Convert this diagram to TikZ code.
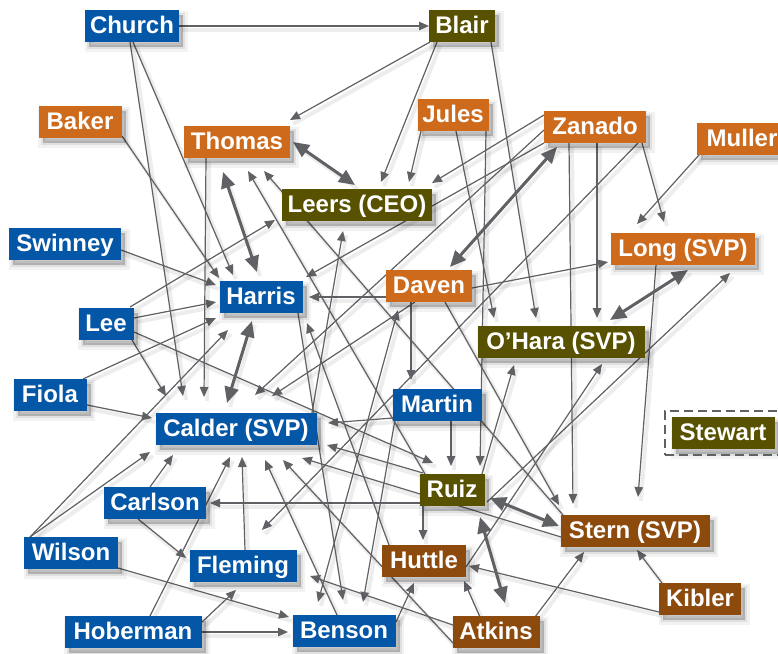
\documentclass[tikz,border=0pt]{standalone}
\usepackage{fontspec}
\setmainfont{Liberation Sans}
\usetikzlibrary{arrows.meta,shadows,fit,backgrounds,calc}
\definecolor{cblue}{RGB}{4,86,166}
\definecolor{corange}{RGB}{205,106,27}
\definecolor{colive}{RGB}{88,82,0}
\definecolor{cbrown}{RGB}{140,74,12}
\definecolor{cedge}{RGB}{96,97,101}
\newcommand{\ed}[5][e]{\draw[#1] ($(#2)+(#3)$) -- ($(#4)+(#5)$);}
\begin{document}
\begin{tikzpicture}[x=1pt,y=-1pt,
  box/.style={text=white, font=\fontsize{24}{24}\selectfont\bfseries, minimum height=32pt,
    inner xsep=2pt, inner ysep=6.25pt, text height=17.2pt, text depth=2.3pt,
    general shadow={shadow xshift=4pt,shadow yshift=-5pt,fill=black,draw=black,line width=9pt,opacity=0.05},
    general shadow={shadow xshift=4pt,shadow yshift=-5pt,fill=black,draw=black,line width=4pt,opacity=0.07},
    general shadow={shadow xshift=4pt,shadow yshift=-5pt,fill=black,opacity=0.10}},
  bl/.style={box, fill=cblue},
  og/.style={box, fill=corange},
  ol/.style={box, fill=colive},
  br/.style={box, fill=cbrown},
  esh/.style={preaction={draw=black, opacity=0.07, line width=4pt, arrows=-, transform canvas={shift={(3pt,-4pt)}}}},
  e/.style={esh, draw=cedge, line width=1.2pt, -{Triangle[length=10pt,width=8.5pt]}},
  eb/.style={esh, draw=cedge, line width=1.2pt, {Triangle[length=10pt,width=8.5pt]}-{Triangle[length=10pt,width=8.5pt]}},
  ee/.style={esh, draw=cedge, line width=3pt, {Triangle[length=16pt,width=14pt]}-{Triangle[length=16pt,width=14pt]}},
]
\useasboundingbox (0,0) rectangle (778,653);
% nodes
\node[bl, minimum width=94pt]  (church)   at (132,26)  {Church};
\node[ol, minimum width=66pt]  (blair)    at (462,26)  {Blair};
\node[og, minimum width=83pt]  (baker)    at (80,122)  {Baker};
\node[og, minimum width=106pt] (thomas)   at (237,142) {Thomas};
\node[og, minimum width=71pt]  (jules)    at (453,115) {Jules};
\node[og, minimum width=102pt] (zanado)   at (595,127) {Zanado};
\node[og, minimum width=90pt]  (muller)   at (742,139) {Muller};
\node[ol, minimum width=150pt] (leers)    at (357,205) {Leers (CEO)};
\node[og, minimum width=144pt] (long)     at (683,249) {Long (SVP)};
\node[bl, minimum width=112pt] (swinney)  at (65,244)  {Swinney};
\node[bl, minimum width=83pt]  (harris)   at (261,297) {Harris};
\node[og, minimum width=86pt]  (daven)    at (429,286) {Daven};
\node[bl, minimum width=55pt]  (lee)      at (106,324) {Lee};
\node[ol, minimum width=167pt] (ohara)    at (561,342) {O’Hara (SVP)};
\node[bl, minimum width=73pt]  (fiola)    at (50,395)  {Fiola};
\node[bl, minimum width=89pt]  (martin)   at (437,405) {Martin};
\node[bl, minimum width=161pt] (calder)   at (236,429) {Calder (SVP)};
\node[ol, minimum width=103pt] (stewart)  at (723,433) {Stewart};
\node[ol, minimum width=65pt]  (ruiz)     at (452,490) {Ruiz};
\node[bl, minimum width=102pt] (carlson)  at (155,503) {Carlson};
\node[br, minimum width=149pt] (stern)    at (635,531) {Stern (SVP)};
\node[bl, minimum width=94pt]  (wilson)   at (71,553)  {Wilson};
\node[bl, minimum width=107pt] (fleming)  at (243,566) {Fleming};
\node[br, minimum width=84pt]  (huttle)   at (424,561) {Huttle};
\node[br, minimum width=82pt]  (kibler)   at (700,599) {Kibler};
\node[bl, minimum width=137pt] (hoberman) at (133,632) {Hoberman};
\node[bl, minimum width=103pt] (benson)   at (344,631) {Benson};
\node[br, minimum width=87pt]  (atkins)   at (496,632) {Atkins};
\node[draw=cedge, line width=2.5pt, dash pattern=on 9pt off 5pt, inner sep=0pt,
      minimum width=118pt, minimum height=44pt] (stewartbox) at (724,433) {};
% edges
\begin{scope}[on background layer]
\fill[white] (0,0) rectangle (778,653);
\ed{church}{47,0}{blair}{-33,0}
\ed{church}{1,16}{harris}{-28,-22}
\ed{church}{-2,16}{calder}{-53,-33}
\ed{blair}{-32,16}{thomas}{53,-22}
\ed{blair}{-25,16}{leers}{24,-23}
\ed{blair}{29,16}{ohara}{-25,-24}
\ed{baker}{42,14}{harris}{-42,-19}
\ed{jules}{-32,16}{leers}{52,-23}
\ed{jules}{3,16}{ohara}{-67,-24}
\ed{jules}{33,16}{ruiz}{28,-24}
\ed{zanado}{-51,-12}{leers}{75,-22}
\ed{zanado}{-51,16}{harris}{45,-20}
\ed{zanado}{-51,3}{calder}{19,-34}
\ed{zanado}{43,16}{fleming}{19,-36}
\ed{zanado}{-26,16}{stern}{-62,-27}
\ed{zanado}{2,16}{ohara}{36,-24}
\ed{zanado}{47,16}{long}{-19,-27}
\ed{muller}{-43,16}{long}{-46,-25}
\ed{swinney}{56,6}{harris}{-45,-12}
\ed{lee}{28,-6}{harris}{-45,5}
\ed{lee}{24,-17}{leers}{-82,15}
\ed{lee}{26,16}{calder}{-70,-33}
\ed{lee}{28,8}{ruiz}{-19,-27}
\ed{fiola}{33,-16}{harris}{-45,21}
\ed{fiola}{37,10}{calder}{-84,-11}
\ed{wilson}{-41,-16}{harris}{-33,33}
\ed{wilson}{-41,-16}{calder}{-86,23}
\ed{wilson}{47,15}{benson}{-55,-14}
\ed{carlson}{-5,-16}{calder}{-63,26}
\ed{carlson}{-17,16}{fleming}{-57,-8}
\ed{hoberman}{17,-16}{calder}{-6,28}
\ed{hoberman}{69,-10}{fleming}{-7,24}
\ed{hoberman}{69,0}{benson}{-56,1}
\ed{fleming}{2,-16}{calder}{6,28}
\ed{benson}{-7,-16}{calder}{29,31}
\ed{benson}{52,-9}{huttle}{-10,22}
\ed[eb]{benson}{-26,-29}{daven}{-31,24}
\ed{thomas}{-31,16}{calder}{-32,-32}
\ed{daven}{-43,11}{harris}{48,0}
\ed{daven}{43,2}{long}{-75,13}
\ed{daven}{-18,16}{martin}{-26,-25}
\ed{daven}{16,16}{stern}{-76,-26}
\ed{daven}{-14,16}{calder}{36,-33}
\ed{martin}{-44,13}{calder}{92,-6}
\ed{martin}{14,15}{ruiz}{-1,-24}
\ed{martin}{-42,15}{benson}{19,-29}
\ed{ruiz}{-29,-17}{calder}{91,16}
\ed{ruiz}{-32,13}{carlson}{55,0}
\ed{ruiz}{-29,16}{huttle}{-1,-21}
\ed{ruiz}{30,-16}{ohara}{-47,23}
\ed{ruiz}{35,12}{long}{47,24}
\ed{ruiz}{-27,-16}{thomas}{11,29}
\ed{huttle}{42,6}{ohara}{41,22}
\ed{huttle}{-35,-16}{harris}{46,26}
\ed{stern}{-74,6}{calder}{66,29}
\ed{stern}{-72,-16}{thomas}{27,29}
\ed{long}{-27,16}{stern}{3,-34}
\ed{atkins}{-43,11}{calder}{47,31}
\ed{atkins}{-43,-7}{fleming}{67,10}
\ed{atkins}{-16,-15}{huttle}{40,20}
\ed{atkins}{39,-15}{stern}{-51,21}
\ed{kibler}{-38,-16}{stern}{2,19}
\ed{kibler}{-41,13}{huttle}{45,5}
\ed{calder}{76,-16}{leers}{-14,26}
\ed{harris}{37,16}{benson}{-1,-31}
% thick two-way
\ed[ee]{thomas}{56,0}{leers}{-2,-20}
\ed[ee]{thomas}{-14,30}{harris}{-4,-25}
\ed[ee]{harris}{-9,24}{calder}{-9,-26}
\ed[ee]{daven}{21,-19}{zanado}{-38,20}
\ed[ee]{ohara}{49,-22}{long}{5,21}
\ed[ee]{ruiz}{38,8}{stern}{-76,-5}
\ed[ee]{ruiz}{28,27}{atkins}{9,-29}
\end{scope}
\end{tikzpicture}
\end{document}
